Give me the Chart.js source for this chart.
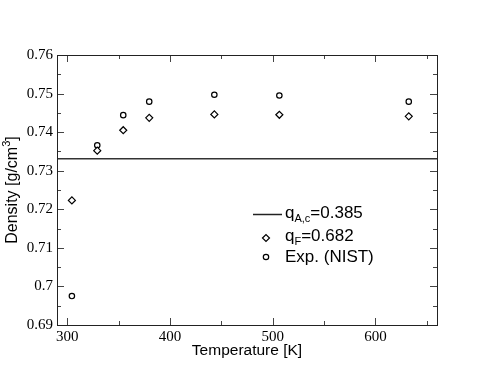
<!DOCTYPE html>
<html>
<head>
<meta charset="utf-8">
<script src="https://cdn.jsdelivr.net/npm/chart.js@4/dist/chart.umd.min.js"></script>
<style>
  html, body { margin: 0; padding: 0; background: #fff; }
  #wrap { width: 495px; height: 383px; }
</style>
</head>
<body>
<div id="wrap"><canvas id="chart" width="495" height="383"></canvas></div>
<script>
// data
var temperature = [304.5, 329.2, 354.5, 379.8, 443.2, 506.5, 632.5];
var densityQF   = [0.7223, 0.7352, 0.7405, 0.7437, 0.7446, 0.7445, 0.7441];
var densityNIST = [0.6975, 0.7366, 0.7444, 0.7479, 0.7497, 0.7495, 0.7479];
var qAcDensity  = 0.7331;
var tempRange   = [290, 660];
var densityRange = [0.69, 0.76];
var xTicks      = [300, 400, 500, 600];
var xMinorTicks = [350, 450, 550, 650];
var yTicks      = [0.69, 0.70, 0.71, 0.72, 0.73, 0.74, 0.75, 0.76];
var yMinorTicks = [0.695, 0.705, 0.715, 0.725, 0.735, 0.745, 0.755];

function points(xs, ys) {
    return xs.map(function (x, i) { return { x: x, y: ys[i] }; });
}

var SERIF = "'Liberation Serif', 'DejaVu Serif', serif";
var SANS = "'Liberation Sans', Arial, sans-serif";

// frame, inward ticks, axis titles and legend (with subscripts)
var decorations = {
    id: 'decorations',
    afterDraw: function (chart) {
        var ctx = chart.ctx;
        var a = chart.chartArea;
        var xs = chart.scales.x, ys = chart.scales.y;
        ctx.save();

        ctx.strokeStyle = '#444';
        ctx.lineWidth = 1;
        ctx.beginPath();
        function tickX(v, len) {
            var px = Math.round(xs.getPixelForValue(v)) + 0.5;
            ctx.moveTo(px, a.bottom); ctx.lineTo(px, a.bottom - len);
            ctx.moveTo(px, a.top); ctx.lineTo(px, a.top + len);
        }
        function tickY(v, len) {
            var py = Math.round(ys.getPixelForValue(v)) + 0.5;
            ctx.moveTo(a.left, py); ctx.lineTo(a.left + len, py);
            ctx.moveTo(a.right, py); ctx.lineTo(a.right - len, py);
        }
        xTicks.forEach(function (v) { tickX(v, 7); });
        xMinorTicks.forEach(function (v) { tickX(v, 4); });
        yTicks.forEach(function (v) { tickY(v, 7); });
        yMinorTicks.forEach(function (v) { tickY(v, 4); });
        ctx.stroke();

        ctx.strokeStyle = '#222';
        ctx.strokeRect(Math.round(a.left) + 0.5, Math.round(a.top) + 0.5,
            Math.round(a.right - a.left), Math.round(a.bottom - a.top));

        // x title
        ctx.fillStyle = '#000';
        ctx.font = '15.5px ' + SANS;
        ctx.textAlign = 'center';
        ctx.textBaseline = 'alphabetic';
        ctx.fillText('Temperature [K]', (a.left + a.right) / 2, 355);

        // y title with superscript
        ctx.save();
        ctx.translate(17, (a.top + a.bottom) / 2);
        ctx.rotate(-Math.PI / 2);
        ctx.textAlign = 'left';
        var main = 'Density [g/cm', sup = '3', end = ']';
        ctx.font = '11px ' + SANS;
        var wSup = ctx.measureText(sup).width;
        ctx.font = '16px ' + SANS;
        var wMain = ctx.measureText(main).width, wEnd = ctx.measureText(end).width;
        var x0 = -(wMain + wSup + wEnd) / 2;
        ctx.fillText(main, x0, 0);
        ctx.font = '11px ' + SANS;
        ctx.fillText(sup, x0 + wMain, -7);
        ctx.font = '16px ' + SANS;
        ctx.fillText(end, x0 + wMain + wSup, 0);
        ctx.restore();

        // legend
        ctx.textAlign = 'left';
        ctx.textBaseline = 'alphabetic';
        ctx.strokeStyle = '#222';
        ctx.lineWidth = 1.5;
        ctx.beginPath();
        ctx.moveTo(253, 214.5); ctx.lineTo(282, 214.5);
        ctx.stroke();

        function subText(x, y, base, sub, rest) {
            ctx.font = '17px ' + SANS;
            ctx.fillText(base, x, y);
            x += ctx.measureText(base).width;
            ctx.font = '11px ' + SANS;
            ctx.fillText(sub, x, y + 4);
            x += ctx.measureText(sub).width;
            ctx.font = '17px ' + SANS;
            ctx.fillText(rest, x, y);
        }
        ctx.fillStyle = '#000';
        subText(285, 218, 'q', 'A,c', '=0.385');
        subText(285, 241, 'q', 'F', '=0.682');
        ctx.font = '17px ' + SANS;
        ctx.fillText('Exp. (NIST)', 285, 262);

        ctx.strokeStyle = '#000';
        ctx.fillStyle = '#fff';
        ctx.lineWidth = 1.2;
        Chart.helpers.drawPoint(ctx, { pointStyle: 'rectRot', radius: 3.5, rotation: 0, borderWidth: 1.2 }, 266, 238);
        Chart.helpers.drawPoint(ctx, { pointStyle: 'circle', radius: 2.7, rotation: 0, borderWidth: 1.2 }, 266, 257);

        ctx.restore();
    }
};

new Chart(document.getElementById('chart'), {
    type: 'scatter',
    data: {
        datasets: [
            {
                label: 'qA,c=0.385',
                type: 'line',
                data: points(tempRange, [qAcDensity, qAcDensity]),
                borderColor: '#333',
                borderWidth: 1.5,
                pointRadius: 0,
                fill: false
            },
            {
                label: 'qF=0.682',
                data: points(temperature, densityQF),
                pointStyle: 'rectRot',
                pointRadius: 3.5,
                borderColor: '#000',
                backgroundColor: '#fff',
                borderWidth: 1.2
            },
            {
                label: 'Exp. (NIST)',
                data: points(temperature, densityNIST),
                pointStyle: 'circle',
                pointRadius: 2.7,
                borderColor: '#000',
                backgroundColor: '#fff',
                borderWidth: 1.2
            }
        ]
    },
    options: {
        responsive: false,
        animation: false,
        devicePixelRatio: 1,
        layout: { padding: { top: 55, right: 58, left: 0, bottom: 0 } },
        plugins: {
            legend: { display: false },
            tooltip: { enabled: false }
        },
        scales: {
            x: {
                type: 'linear',
                min: tempRange[0],
                max: tempRange[1],
                afterBuildTicks: function (scale) {
                    scale.ticks = xTicks.map(function (v) { return { value: v }; });
                },
                afterFit: function (scale) { scale.height = 58; },
                grid: { display: false, drawTicks: false },
                border: { display: false },
                ticks: {
                    padding: 3,
                    color: '#000',
                    maxRotation: 0,
                    autoSkip: false,
                    font: { family: SERIF, size: 15 }
                }
            },
            y: {
                type: 'linear',
                min: densityRange[0],
                max: densityRange[1],
                afterBuildTicks: function (scale) {
                    scale.ticks = yTicks.map(function (v) { return { value: v }; });
                },
                afterFit: function (scale) { scale.width = 57; },
                grid: { display: false, drawTicks: false },
                border: { display: false },
                ticks: {
                    padding: 4,
                    color: '#000',
                    autoSkip: false,
                    font: { family: SERIF, size: 15 },
                    callback: function (v) { return String(+v.toFixed(2)); }
                }
            }
        }
    },
    plugins: [decorations]
});
</script>
</body>
</html>
